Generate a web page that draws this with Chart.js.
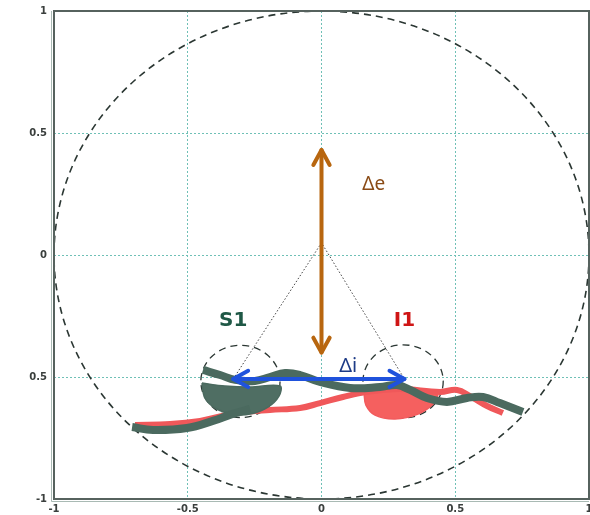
<!DOCTYPE html>
<html>
<head>
<meta charset="utf-8">
<script src="https://cdn.jsdelivr.net/npm/chart.js@4/dist/chart.umd.min.js"></script>
<style>
  body { margin: 0; background: #fff; }
  #wrap { width: 590px; height: 515px; }
</style>
</head>
<body>
<div id="wrap"><canvas id="chart" width="590" height="515"></canvas></div>
<script>
// axis ticks (the -0.5 label shows without its minus in the original)
const tickValues = [-1, -0.5, 0, 0.5, 1];
const xTickLabels = ["-1", "-0.5", "0", "0.5", "1"];
const yTickLabels = ["-1", "0.5", "0", "0.5", "1"];

// S1 trace (upper band), S1 tail and S1 blob
const s1BandX = [-0.443, -0.379, -0.323, -0.249, -0.193, -0.136, -0.080, -0.006, 0.107, 0.219, 0.282, 0.331, 0.394, 0.469, 0.544, 0.604, 0.667, 0.753];
const s1BandY = [-0.471, -0.492, -0.512, -0.516, -0.500, -0.484, -0.492, -0.520, -0.545, -0.541, -0.533, -0.553, -0.586, -0.602, -0.586, -0.582, -0.607, -0.643];
const s1TailX = [-0.708, -0.630, -0.503, -0.406, -0.335, -0.267];
const s1TailY = [-0.705, -0.717, -0.709, -0.680, -0.652, -0.631];
const s1BlobX = [-0.447, -0.361, -0.267, -0.155, -0.159, -0.200, -0.267, -0.335, -0.398, -0.436, -0.447];
const s1BlobY = [-0.525, -0.537, -0.541, -0.537, -0.578, -0.623, -0.652, -0.652, -0.627, -0.586, -0.525];

// I1 trace and I1 blob
const i1BandX = [-0.697, -0.566, -0.454, -0.372, -0.286, -0.193, -0.080, -0.006, 0.080, 0.170, 0.293, 0.443, 0.507, 0.555, 0.619, 0.678];
const i1BandY = [-0.697, -0.693, -0.680, -0.660, -0.643, -0.635, -0.627, -0.607, -0.582, -0.561, -0.549, -0.561, -0.553, -0.578, -0.619, -0.648];
const i1BlobX = [0.159, 0.237, 0.331, 0.432, 0.417, 0.361, 0.275, 0.200, 0.166, 0.159];
const i1BlobY = [-0.566, -0.553, -0.557, -0.570, -0.611, -0.652, -0.672, -0.656, -0.615, -0.566];

// circles: [cx, cy, r]
const bigCircle = [0, 0, 1];
const s1Circle = [-0.303, -0.518, 0.148];
const i1Circle = [0.305, -0.518, 0.150];

// arrows and construction lines
const deltaEX = [0, 0];
const deltaEY = [0.43, -0.40];
const deltaIX = [-0.33, 0.31];
const deltaIY = [-0.508, -0.508];
const apex = [0, 0.05];

const textLabels = [
  { text: "S1", x: -0.33, y: -0.27, color: "#1f5846", font: "bold 20px 'DejaVu Sans'" },
  { text: "I1", x: 0.31, y: -0.27, color: "#cf1515", font: "bold 20px 'DejaVu Sans'" },
  { text: "\u0394e", x: 0.195, y: 0.29, color: "#8a4b16", font: "19px 'Noto Sans'" },
  { text: "\u0394i", x: 0.10, y: -0.455, color: "#1d3b86", font: "20px 'Noto Sans'" }
];

function pts(xs, ys) {
    return xs.map((v, i) => ({ x: v, y: ys[i] }));
}

function drawCircle(ctx, x, y, c) {
    const px = x.getPixelForValue(c[0]);
    const py = y.getPixelForValue(c[1]);
    const rx = Math.abs(x.getPixelForValue(c[0] + c[2]) - px);
    const ry = Math.abs(y.getPixelForValue(c[1] + c[2]) - py);
    ctx.beginPath();
    ctx.ellipse(px, py, rx, ry, 0, 0, Math.PI * 2);
    ctx.stroke();
}

function drawArrow(ctx, x, y, xs, ys, color) {
    const x1 = x.getPixelForValue(xs[0]), y1 = y.getPixelForValue(ys[0]);
    const x2 = x.getPixelForValue(xs[1]), y2 = y.getPixelForValue(ys[1]);
    ctx.save();
    ctx.strokeStyle = color;
    ctx.lineWidth = 4;
    ctx.lineCap = "round";
    ctx.lineJoin = "round";
    ctx.beginPath();
    ctx.moveTo(x1, y1);
    ctx.lineTo(x2, y2);
    ctx.stroke();
    const ang = Math.atan2(y2 - y1, x2 - x1);
    [[x1, y1, ang + Math.PI], [x2, y2, ang]].forEach(([tx, ty, a]) => {
        ctx.beginPath();
        ctx.moveTo(tx - 17 * Math.cos(a - 0.5), ty - 17 * Math.sin(a - 0.5));
        ctx.lineTo(tx, ty);
        ctx.lineTo(tx - 17 * Math.cos(a + 0.5), ty - 17 * Math.sin(a + 0.5));
        ctx.stroke();
    });
    ctx.restore();
}

const overlay = {
    id: "overlay",
    beforeDatasetsDraw(chart) {
        const { ctx, scales: { x, y } } = chart;
        ctx.save();
        ctx.strokeStyle = "#2b3733";
        ctx.lineWidth = 1.6;
        ctx.setLineDash([7, 5]);
        drawCircle(ctx, x, y, bigCircle);
        ctx.lineWidth = 1.3;
        ctx.setLineDash([7, 5]);
        drawCircle(ctx, x, y, s1Circle);
        drawCircle(ctx, x, y, i1Circle);
        // dotted lines from the apex to the arrow tips
        ctx.strokeStyle = "#444";
        ctx.lineWidth = 1;
        ctx.setLineDash([1.5, 2]);
        ctx.beginPath();
        ctx.moveTo(x.getPixelForValue(deltaIX[0]), y.getPixelForValue(deltaIY[0]));
        ctx.lineTo(x.getPixelForValue(apex[0]), y.getPixelForValue(apex[1]));
        ctx.lineTo(x.getPixelForValue(deltaIX[1]), y.getPixelForValue(deltaIY[1]));
        ctx.stroke();
        ctx.restore();
    },
    afterDatasetsDraw(chart) {
        const { ctx, scales: { x, y }, chartArea: a } = chart;
        drawArrow(ctx, x, y, deltaEX, deltaEY, "#b8660f");
        drawArrow(ctx, x, y, deltaIX, deltaIY, "#1f52dc");

        ctx.save();
        ctx.textAlign = "center";
        ctx.textBaseline = "middle";
        textLabels.forEach(l => {
            ctx.fillStyle = l.color;
            ctx.font = l.font;
            ctx.fillText(l.text, x.getPixelForValue(l.x), y.getPixelForValue(l.y));
        });
        ctx.restore();

        // frame
        ctx.save();
        ctx.strokeStyle = "#a9bab4";
        ctx.lineWidth = 1;
        ctx.beginPath();
        ctx.moveTo(a.left - 2.5, a.top);
        ctx.lineTo(a.left - 2.5, a.bottom + 2.5);
        ctx.lineTo(a.right, a.bottom + 2.5);
        ctx.stroke();
        ctx.strokeStyle = "#56625e";
        ctx.lineWidth = 2;
        ctx.strokeRect(a.left, a.top, a.right - a.left, a.bottom - a.top);
        ctx.restore();
    }
};

function noPad(s) {
    s.paddingLeft = 0;
    s.paddingRight = 0;
    s.paddingTop = 0;
    s.paddingBottom = 0;
}

new Chart(document.getElementById("chart"), {
    type: "scatter",
    data: {
        datasets: [
            { data: pts(s1BandX, s1BandY), showLine: true, borderColor: "#4b6a5f", borderWidth: 8, tension: 0.4, pointRadius: 0, order: 1 },
            { data: pts(s1TailX, s1TailY), showLine: true, borderColor: "#4b6a5f", borderWidth: 8, tension: 0.4, pointRadius: 0, order: 2 },
            { data: pts(s1BlobX, s1BlobY), showLine: true, borderColor: "#4b6a5f", backgroundColor: "#4f6e63", borderWidth: 1.5, fill: "shape", tension: 0.35, pointRadius: 0, order: 3 },
            { data: pts(i1BandX, i1BandY), showLine: true, borderColor: "#f0585a", borderWidth: 6, tension: 0.4, pointRadius: 0, order: 4 },
            { data: pts(i1BlobX, i1BlobY), showLine: true, borderColor: "#f25a5c", backgroundColor: "#f5605f", borderWidth: 1.5, fill: "shape", tension: 0.35, pointRadius: 0, order: 5 }
        ]
    },
    options: {
        responsive: false,
        animation: false,
        devicePixelRatio: 1,
        layout: { padding: { top: 11, right: 1, left: 0, bottom: 0 } },
        plugins: { legend: { display: false }, tooltip: { enabled: false } },
        scales: {
            x: {
                type: "linear", min: -1, max: 1,
                afterFit: s => { s.height = 16; noPad(s); },
                afterBuildTicks: s => { s.ticks = tickValues.map(v => ({ value: v })); },
                ticks: {
                    padding: 4,
                    color: "#3a3f3d",
                    font: { family: "DejaVu Sans", size: 10, weight: "bold" },
                    maxRotation: 0,
                    callback: v => xTickLabels[tickValues.indexOf(v)]
                },
                grid: { color: "#6fc0b6", drawTicks: false, lineWidth: 1 },
                border: { display: false, dash: [2, 2] }
            },
            y: {
                type: "linear", min: -1, max: 1,
                afterFit: s => { s.width = 54; noPad(s); },
                afterBuildTicks: s => { s.ticks = tickValues.map(v => ({ value: v })); },
                ticks: {
                    padding: 7,
                    color: "#3a3f3d",
                    font: { family: "DejaVu Sans", size: 10, weight: "bold" },
                    callback: v => yTickLabels[tickValues.indexOf(v)]
                },
                grid: { color: "#6fc0b6", drawTicks: false, lineWidth: 1 },
                border: { display: false, dash: [2, 2] }
            }
        }
    },
    plugins: [overlay]
});
</script>
</body>
</html>
